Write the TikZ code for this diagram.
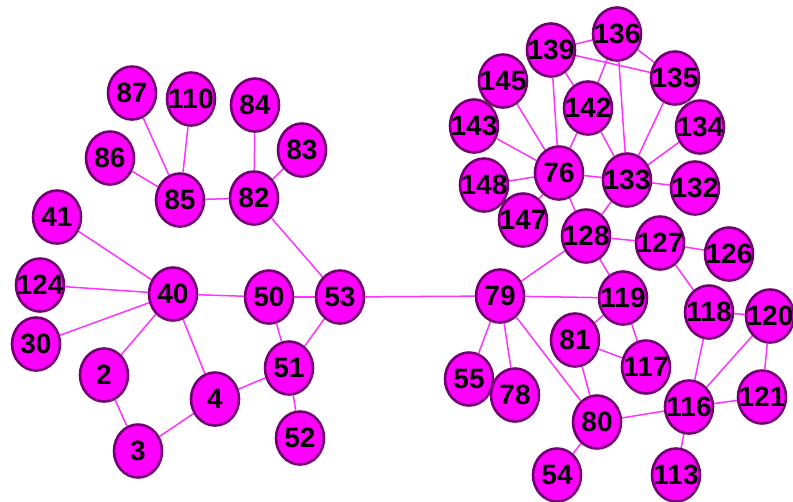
\documentclass[tikz,border=0pt]{standalone}
\usepackage{fontspec}
\setmainfont{Liberation Sans}
\usetikzlibrary{shapes.geometric,backgrounds}
\definecolor{vfill}{RGB}{255,0,255}
\definecolor{vline}{RGB}{115,0,115}
\definecolor{elink}{RGB}{255,50,255}
\tikzset{
  vnode/.style={ellipse,draw=vline,fill=vfill,line width=2.6pt,minimum width=48pt,minimum height=53pt,
    inner xsep=-12pt,inner ysep=0pt,font=\bfseries\fontsize{28}{28}\selectfont},
  link/.style={draw=elink,line width=1.5pt},
  every picture/.style={line cap=round,line join=round}
}

\begin{document}
\begin{tikzpicture}[x=1pt,y=-1pt]
  \useasboundingbox (0,0) rectangle (793,501);
  % left component
  \node[vnode] (n87) at (132,93) {87};
  \node[vnode] (n110) at (191,99) {110};
  \node[vnode] (n84) at (255,105) {84};
  \node[vnode] (n83) at (302,150) {83};
  \node[vnode] (n86) at (110,158) {86};
  \node[vnode] (n85) at (180,200) {85};
  \node[vnode] (n82) at (254,198) {82};
  \node[vnode] (n41) at (57,217) {41};
  \node[vnode] (n124) at (40,285) {124};
  \node[vnode] (n40) at (173,294) {40};
  \node[vnode] (n50) at (269,297) {50};
  \node[vnode] (n53) at (340,297) {53};
  \node[vnode] (n30) at (36,344) {30};
  \node[vnode] (n2) at (104,375) {2};
  \node[vnode] (n51) at (289,368) {51};
  \node[vnode] (n4) at (215,399) {4};
  \node[vnode] (n3) at (138,451) {3};
  \node[vnode] (n52) at (300,438) {52};
  % right component
  \node[vnode] (n139) at (551,50) {139};
  \node[vnode] (n136) at (617,34) {136};
  \node[vnode] (n145) at (503,81) {145};
  \node[vnode] (n135) at (675,78) {135};
  \node[vnode] (n142) at (588,108) {142};
  \node[vnode] (n143) at (474,126) {143};
  \node[vnode] (n134) at (700,127) {134};
  \node[vnode] (n76) at (559,173) {76};
  \node[vnode] (n133) at (627,180) {133};
  \node[vnode] (n148) at (484,185) {148};
  \node[vnode] (n132) at (695,188) {132};
  \node[vnode] (n147) at (523,220) {147};
  \node[vnode] (n128) at (586,236) {128};
  \node[vnode] (n127) at (660,243) {127};
  \node[vnode] (n126) at (729,254) {126};
  \node[vnode] (n79) at (500,296) {79};
  \node[vnode] (n119) at (623,298) {119};
  \node[vnode] (n118) at (709,312) {118};
  \node[vnode] (n120) at (770,316) {120};
  \node[vnode] (n81) at (575,340) {81};
  \node[vnode] (n117) at (646,367) {117};
  \node[vnode] (n55) at (469,379) {55};
  \node[vnode] (n78) at (515,395) {78};
  \node[vnode] (n121) at (762,397) {121};
  \node[vnode] (n116) at (689,407) {116};
  \node[vnode] (n80) at (597,422) {80};
  \node[vnode] (n54) at (557,475) {54};
  \node[vnode] (n113) at (676,475) {113};
  \begin{scope}[on background layer]
    \foreach \a/\b in {87/85,110/85,86/85,85/82,84/82,83/82,82/53,
        41/40,124/40,30/40,2/40,40/4,40/50,50/53,50/51,53/51,51/4,51/52,2/3,3/4,53/79,
        139/136,139/135,136/135,136/142,136/133,139/142,139/76,145/76,143/76,142/76,
        142/133,135/133,134/133,76/133,133/132,148/76,147/76,76/128,133/128,128/127,
        127/126,128/79,128/119,79/119,79/55,79/78,79/80,81/119,81/117,119/117,81/80,
        80/116,80/54,127/118,118/120,118/116,120/116,120/121,116/121,116/113}
      \draw[link] (n\a) -- (n\b);
  \end{scope}
\end{tikzpicture}
\end{document}
